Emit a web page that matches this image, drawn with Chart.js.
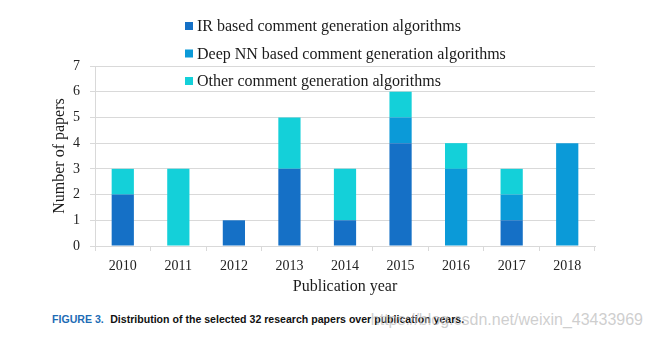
<!DOCTYPE html>
<html>
<head>
<meta charset="utf-8">
<script src="https://cdn.jsdelivr.net/npm/chart.js@4.4.0/dist/chart.umd.min.js"></script>
<style>
  html, body { margin: 0; padding: 0; background: #fff; }
  #wrap { position: relative; width: 657px; height: 342px; overflow: hidden; }
  #box { position: absolute; left: 0; top: 0; width: 657px; height: 300px; }
  #caption {
    position: absolute; left: 52px; top: 313px;
    font-family: "Liberation Sans Narrow", "Liberation Sans", sans-serif;
    font-weight: bold; font-size: 11.5px; color: #111; white-space: nowrap;
    transform: scaleX(0.92); transform-origin: left center;
  }
  #caption .fig { color: #1d6cb5; margin-right: 7px; }
  #mark {
    position: absolute; right: 14px; top: 311px;
    font-family: "Liberation Sans", sans-serif; font-size: 16px;
    color: rgba(190, 190, 190, 0.75); white-space: nowrap;
  }
</style>
</head>
<body>
<div id="wrap">
  <div id="box"><canvas id="chart"></canvas></div>
  <div id="caption"><span class="fig">FIGURE 3.</span>Distribution of the selected 32 research papers over publication years.</div>
  <div id="mark">https://blog.csdn.net/weixin_43433969</div>
</div>
<script>
// categories and series
const years = ['2010', '2011', '2012', '2013', '2014', '2015', '2016', '2017', '2018'];
const irBased = [2, 0, 1, 3, 1, 4, 0, 1, 0];
const deepNN = [0, 0, 0, 0, 0, 1, 3, 1, 4];
const other = [1, 3, 0, 2, 2, 1, 1, 1, 0];
const seriesNames = [
  'IR based comment generation algorithms',
  'Deep NN based comment generation algorithms',
  'Other comment generation algorithms'
];
const seriesColors = ['#1570c6', '#0b9ad8', '#14d0d9'];

const serif = '"Liberation Serif", "DejaVu Serif", serif';
const gridColor = '#d9d9d9';

// legend drawn on top of the plot, like the original figure
const legendOverlay = {
  id: 'legendOverlay',
  afterDraw(chart) {
    const ctx = chart.ctx;
    ctx.save();
    ctx.font = '16px ' + serif;
    ctx.textBaseline = 'middle';
    chart.data.datasets.forEach((ds, i) => {
      const y = 26 + i * 27.5;
      ctx.fillStyle = ds.backgroundColor;
      ctx.fillRect(185, y - 4, 8, 8);
      ctx.fillStyle = '#1a1a1a';
      ctx.fillText(ds.label, 197, y + 1);
    });
    ctx.restore();
  }
};

new Chart(document.getElementById('chart'), {
  type: 'bar',
  data: {
    labels: years,
    datasets: [irBased, deepNN, other].map((d, i) => ({
      label: seriesNames[i],
      data: d,
      backgroundColor: seriesColors[i],
      borderWidth: 0,
      categoryPercentage: 0.8,
      barPercentage: 0.5
    }))
  },
  options: {
    responsive: true,
    maintainAspectRatio: false,
    animation: false,
    layout: { padding: { left: 40, right: 62, top: 66, bottom: 0 } },
    plugins: {
      legend: { display: false },
      tooltip: { enabled: false }
    },
    scales: {
      x: {
        stacked: true,
        afterFit(scale) { scale.height = 54; },
        grid: {
          offset: true,
          drawOnChartArea: false,
          color: gridColor,
          tickLength: 5
        },
        border: { color: gridColor },
        ticks: { font: { family: serif, size: 14 }, color: '#222', padding: 7 },
        title: {
          display: true,
          text: 'Publication year',
          font: { family: serif, size: 16 },
          color: '#1a1a1a',
          padding: { top: 0, bottom: 4 }
        }
      },
      y: {
        stacked: true,
        min: 0,
        max: 7,
        afterFit(scale) { scale.width = 55; },
        grid: { color: gridColor, tickLength: 5 },
        border: { color: gridColor },
        ticks: { stepSize: 1, font: { family: serif, size: 14 }, color: '#222', padding: 10 },
        title: {
          display: true,
          text: 'Number of papers',
          font: { family: serif, size: 16 },
          color: '#1a1a1a',
          padding: { top: 10, bottom: 0 }
        }
      }
    }
  },
  plugins: [legendOverlay]
});
</script>
</body>
</html>
